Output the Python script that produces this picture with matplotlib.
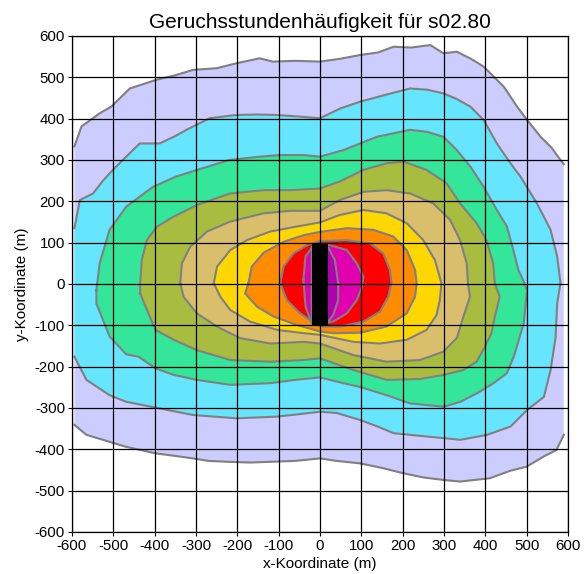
import numpy as np
import matplotlib
matplotlib.use('Agg')
import matplotlib.pyplot as plt

plt.rcParams['font.family'] = ['Liberation Sans', 'DejaVu Sans']
plt.rcParams['axes.unicode_minus'] = False

# contour outlines (x, y in m), outermost first
lav = [(-594,-341),(-594,333),(-577,381),(-533,413),(-505,429),(-460,473),(-396,494),(-350,505),
       (-307,518),(-250,522),(-202,534),(-146,546),(-114,538),(-60,540),(0,538),(50,545),(97,554),
       (140,560),(178,574),(220,572),(267,578),(299,558),(331,562),(365,545),(396,526),(420,502),
       (445,477),(477,429),(501,397),(534,356),(560,330),(582,300),(590,290),(590,-365),(572,-402),
       (540,-418),(500,-442),(460,-452),(411,-470),(339,-478),(298,-474),(250,-468),(202,-458),
       (150,-445),(97,-434),(40,-428),(0,-422),(-60,-428),(-114,-430),(-170,-432),(-227,-430),
       (-270,-428),(-307,-422),(-350,-416),(-396,-410),(-469,-394),(-525,-377),(-565,-365)]
cyan = [(-594,-176),(-594,135),(-581,203),(-549,219),(-525,250),(-501,276),(-477,300),(-436,340),
        (-388,340),(-350,358),(-323,373),(-267,401),(-202,409),(-150,410),(-106,409),(-50,405),
        (0,401),(50,425),(97,441),(160,458),(218,473),(260,470),(299,461),(330,448),(364,429),
        (396,397),(428,340),(461,292),(485,260),(525,195),(558,131),(574,66),(582,2),(574,-47),
        (570,-130),(558,-208),(542,-273),(501,-305),(461,-345),(404,-365),(340,-377),(300,-373),
        (259,-369),(178,-361),(140,-345),(97,-329),(40,-312),(0,-309),(-50,-315),(-106,-321),
        (-202,-325),(-307,-317),(-388,-301),(-469,-285),(-509,-269),(-565,-232)]
green = [(-541,-15),(-533,50),(-509,131),(-469,187),(-404,235),(-348,260),(-291,278),(-219,300),
         (-146,308),(-96,312),(-40,312),(0,308),(57,324),(137,356),(218,373),(260,368),(299,356),
         (331,324),(364,284),(396,235),(428,179),(452,140),(468,82),(480,34),(495,2),(501,-15),
         (493,-95),(469,-176),(452,-216),(420,-240),(379,-265),(340,-285),(299,-297),(218,-289),
         (161,-269),(100,-250),(57,-240),(0,-226),(-60,-232),(-120,-240),(-217,-244),(-298,-232),
         (-354,-220),(-398,-204),(-439,-176),(-469,-170),(-509,-127),(-541,-47)]
olive = [(-435,-23),(-435,2),(-431,58),(-419,106),(-394,139),(-354,163),(-298,191),(-217,219),
         (-136,227),(-72,227),(0,231),(48,248),(105,276),(161,292),(202,296),(258,276),(306,244),
         (339,195),(379,147),(403,106),(419,50),(423,2),(435,-31),(423,-79),(415,-119),(399,-152),
         (379,-188),(347,-208),(298,-220),(242,-230),(161,-232),(81,-208),(0,-180),(-40,-184),
         (-120,-188),(-217,-184),(-298,-160),(-354,-135),(-398,-111),(-415,-71)]
tan = [(-338,2),(-334,50),(-314,90),(-273,127),(-217,151),(-136,171),(-72,177),(0,177),(48,203),
       (105,223),(161,227),(218,219),(274,195),(315,155),(339,106),(355,50),(358,2),(363,-31),
       (347,-79),(331,-131),(298,-164),(242,-184),(161,-188),(81,-172),(0,-144),(-40,-140),
       (-120,-144),(-193,-131),(-249,-103),(-298,-71),(-330,-31)]
yellow = [(-257,2),(-249,42),(-217,82),(-177,106),(-120,127),(-56,139),(0,149),(48,167),(105,179),
          (161,171),(210,147),(250,106),(278,58),(294,2),(290,-39),(282,-75),(258,-111),(210,-135),
          (145,-144),(81,-140),(0,-123),(-40,-119),(-104,-111),(-169,-91),(-217,-63),(-241,-31)]
orange = [(-173,2),(-165,42),(-136,76),(-88,102),(-40,118),(0,126),(65,135),(129,131),(177,115),
          (210,82),(230,34),(234,2),(230,-31),(210,-71),(161,-103),(97,-118),(32,-119),(0,-115),
          (-56,-99),(-112,-79),(-152,-55),(-181,-23)]
red = [(-96,2),(-88,42),(-64,74),(-31,94),(0,104),(65,106),(121,98),(153,74),(169,34),(173,2),
       (165,-31),(145,-67),(105,-91),(48,-103),(0,-103),(-19,-91),(-48,-71),(-80,-39)]
magenta = [(-40,11),(-35,67),(-19,88),(0,96),(24,94),(65,82),(89,50),(105,18),(101,-10),(89,-39),
           (65,-71),(32,-91),(0,-96),(-21,-94),(-35,-54)]
purple = [(-20,-91),(-20,90),(20,88),(36,58),(44,2),(44,-39),(32,-75),(20,-91)]

src_x = [-20, 20]
src_y = [-100, 100]

levels = [lav, cyan, green, olive, tan, yellow, orange, red, magenta, purple]
colors = ['#ccccff', '#66e5ff', '#33e699', '#a8bd3f', '#d9bf6b', '#ffd700', '#ff8c00',
          '#ff0000', '#e000b0', '#b000b0']
ticks = np.arange(-600, 601, 100)

fig = plt.figure(figsize=(5.88, 5.74), dpi=100)
ax = fig.add_axes([0.1224, 0.0732, 0.8435, 0.8641])

for pts, c in zip(levels, colors):
    p = np.array(pts, float)
    ax.fill(p[:, 0], p[:, 1], color=c, lw=0, zorder=1)
    # outline, leaving out the parts that lie on the edge of the domain
    q = np.vstack([p, p[:1]])
    lx, ly = [q[0, 0]], [q[0, 1]]
    for a, b in zip(q[:-1], q[1:]):
        if abs(a[0]) >= 589 and abs(b[0]) >= 589:
            lx += [np.nan, b[0]]
            ly += [np.nan, b[1]]
        else:
            lx.append(b[0])
            ly.append(b[1])
    ax.plot(lx, ly, color='#808080', lw=1.5, zorder=2, solid_joinstyle='round')

ax.fill([src_x[0], src_x[1], src_x[1], src_x[0]], [src_y[0], src_y[0], src_y[1], src_y[1]],
        color='black', lw=0, zorder=3)

ax.set_xlim(-600, 600)
ax.set_ylim(-600, 600)
ax.set_xticks(ticks)
ax.set_yticks(ticks)
ax.grid(True, color='black', lw=0.9)
ax.set_axisbelow(False)
ax.tick_params(direction='out', length=3, width=0.8, labelsize=10.8, pad=2)
for s in ax.spines.values():
    s.set_linewidth(0.9)
ax.set_title('Geruchsstundenhäufigkeit für s02.80', fontsize=15, pad=6)
ax.set_xlabel('x-Koordinate (m)', fontsize=11, labelpad=3)
ax.set_ylabel('y-Koordinate (m)', fontsize=11, labelpad=4)

fig.savefig('out.png', dpi=100)
